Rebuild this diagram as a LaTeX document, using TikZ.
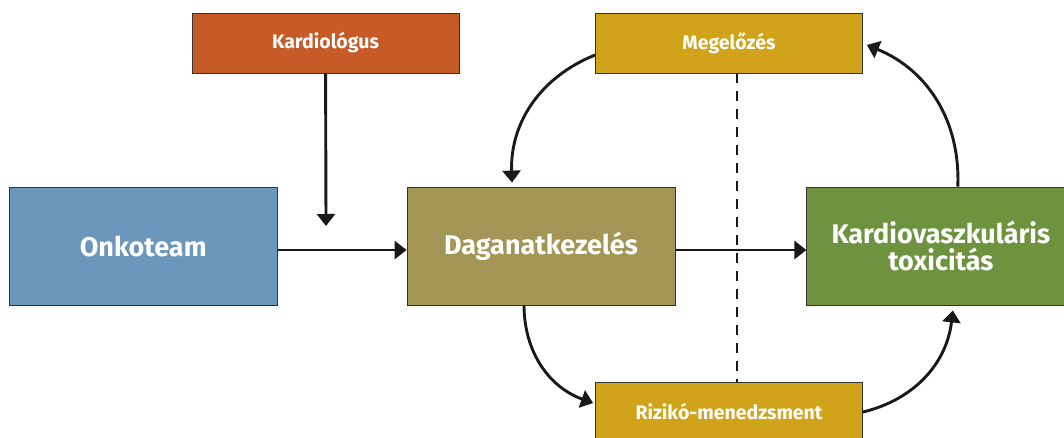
\documentclass[tikz,border=0pt]{standalone}
\usepackage{fontspec}
\setmainfont{Fira Sans}
\usepackage{xcolor}
\usetikzlibrary{arrows.meta,positioning}
\definecolor{kardcol}{RGB}{198,91,40}
\definecolor{megcol}{RGB}{209,163,27}
\definecolor{onkocol}{RGB}{107,151,188}
\definecolor{dagcol}{RGB}{163,149,86}
\definecolor{toxcol}{RGB}{109,147,63}
\tikzset{>={Triangle[length=12pt,width=18pt]}}
\tikzset{
  smallbox/.style={draw=black!80, line width=0.8pt, minimum width=267pt, minimum height=60pt,
    text=white, font=\bfseries\fontsize{19.5}{20}\selectfont},
  bigbox/.style={draw=black!80, line width=0.8pt, minimum width=268pt, minimum height=118pt,
    text=white, align=center, font=\bfseries\fontsize{27}{27}\selectfont},
  link/.style={->, line width=2.9pt, black!90}
}

\begin{document}
\begin{tikzpicture}[x=1pt,y=-1pt]
            \useasboundingbox (0,0) rectangle (1064,437);
            \node [bigbox, fill=dagcol] at (541,246) (Dag) {Daganatkezelés};
            \node [bigbox, fill=onkocol, left=129pt of Dag] (Onko) {Onkoteam};
            \node [bigbox, fill=toxcol, right=131pt of Dag] (Tox) {Kardiovaszkuláris\\toxicitás};
            \node [smallbox, fill=kardcol] at (325.5,43) (Kard) {Kardiológus};
            \node [smallbox, fill=megcol] at (729,43) (Meg) {Megelőzés};
            \node [smallbox, fill=megcol] at (729,412) (Riz) {Rizikó-menedzsment};
            \coordinate (KardEnd) at (326,226);
            %\draw[->] (Kard) to (Dag);
            \draw[link] (Kard) to (KardEnd);
            \draw[link] ([yshift=-4pt]Onko.east) to ([yshift=-4pt]Dag.west);
            \draw[link] ([yshift=-4pt]Dag.east) to ([yshift=-4pt]Tox.west);
            \draw[link, bend right=35] ([yshift=-12pt]Meg.west) to ([xshift=-29pt,yshift=4pt]Dag.north);
            \draw[link, bend right=35] ([xshift=-17pt]Dag.south) to ([yshift=9pt,xshift=-2pt]Riz.west);
            \draw[link, bend right=35] ([yshift=0pt]Riz.east) to ([xshift=12pt,yshift=-5pt]Tox.south);
            \draw[link, bend right=35] ([xshift=17pt]Tox.north) to ([xshift=4pt,yshift=-2pt]Meg.east);
            \draw[line width=2.9pt, black!90, dash pattern=on 10pt off 8pt] ([xshift=8pt]Meg.south) to ([xshift=8pt]Riz.north);
          \end{tikzpicture}
\end{document}
